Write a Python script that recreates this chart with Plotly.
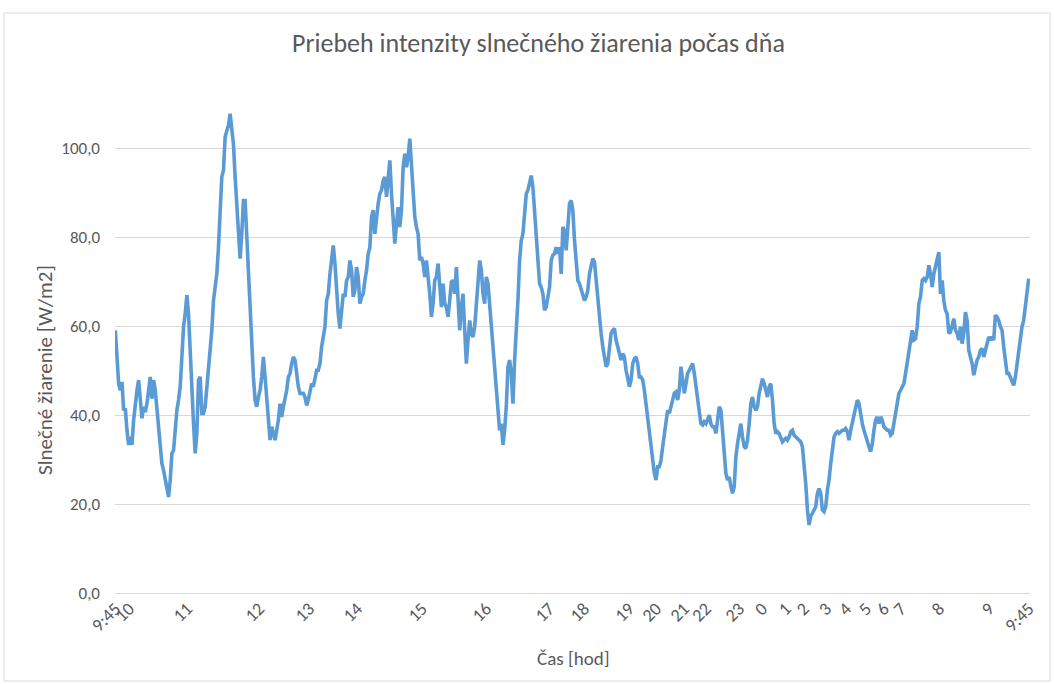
import plotly.graph_objects as go

# Solar irradiance samples [W/m2] (uniform sample index)
irradiance = [
    # 9:45 - 12
    59.1, 51.6, 47.1, 45.6, 47.5, 41.1, 41.5, 36.6, 33.3, 35.1,
    33.3, 38.9, 42.6, 45.6, 47.9, 43.4, 39.3, 41.9, 40.7, 42.6,
    46.4, 48.6, 43.7, 47.9, 45.6, 41.9, 38.1, 33.6, 29.1, 27.6,
    25.4, 23.1, 21.6, 25.4, 31.4, 32.1, 37.4, 41.1, 43.4, 46.4,
    53.1, 59.9, 62.8, 67.0, 62.8, 53.1, 45.6, 38.1, 31.4, 35.9,
    47.9, 48.6, 40.4, 40.4, 41.9, 46.4, 51.6, 53.9, 59.1, 65.8,
    69.6, 71.8, 77.8, 86.8, 93.6, 95.1, 102.5, 104.0, 105.2, 107.8,
    104.0, 101.0, 93.6, 87.6, 79.3, 75.2, 80.8, 88.3, 88.3, 80.1,
    71.8, 64.3, 56.9, 48.6, 43.4, 41.9, 44.1, 45.6, 48.6, 53.1,
    48.6, 43.4, 38.9, 34.4, 37.4,
    # 12 - 15
    35.9, 34.4, 36.6, 38.9, 42.6, 39.6, 41.9, 43.4, 45.6, 48.6,
    49.4, 51.6, 53.1, 52.4, 48.6, 46.4, 44.9, 44.9, 44.9, 44.1,
    42.2, 43.4, 45.6, 47.1, 46.4, 47.9, 50.1, 50.1, 51.6, 55.4,
    57.6, 59.9, 65.8, 67.3, 71.8, 75.6, 78.2, 74.1, 67.3, 62.8,
    59.5, 64.3, 67.3, 66.6, 70.3, 71.1, 74.8, 72.6, 66.6, 68.1,
    73.3, 71.1, 65.1, 66.6, 67.3, 70.3, 72.6, 76.3, 77.8, 84.6,
    86.1, 80.8, 85.3, 87.6, 89.8, 90.6, 92.8, 93.6, 89.1, 92.8,
    97.3, 89.8, 85.3, 78.6, 83.1, 86.8, 82.3, 86.1, 95.8, 98.8,
    95.8, 98.1, 102.2, 96.6, 91.3, 84.6, 82.3, 80.8, 74.8, 75.6,
    74.1, 71.1,
    # 15 - 18
    74.8, 71.8, 67.3, 62.1, 65.1, 70.3, 71.1, 74.1, 68.8, 64.3,
    69.6, 65.1, 64.3, 62.1, 65.8, 70.0, 70.3, 67.3, 73.3, 67.3,
    59.1, 64.3, 67.3, 59.1, 51.6, 56.9, 61.3, 58.4, 57.6, 59.9,
    65.1, 69.6, 74.8, 72.6, 67.3, 65.1, 71.1, 69.6, 65.1, 59.9,
    54.6, 49.4, 46.4, 40.4, 36.6, 38.1, 33.3, 36.6, 41.9, 50.9,
    52.4, 49.4, 42.6, 52.4, 58.4, 65.8, 74.8, 79.3, 80.8, 86.1,
    89.8, 90.6, 92.1, 93.9, 91.3, 85.3, 80.1, 74.1, 69.6, 68.8,
    67.3, 63.6, 64.3, 66.6, 68.8, 74.8, 76.0, 76.3, 77.8, 76.3,
    77.8, 71.8, 82.3, 81.6, 77.1, 82.3, 87.6, 88.3, 86.1, 79.3,
    74.8, 70.3,
    # 18 - 23
    69.6, 68.1, 66.6, 65.8, 66.6, 68.1, 71.8, 74.1, 75.2, 74.5,
    70.3, 65.8, 61.3, 58.4, 55.4, 52.4, 50.9, 51.6, 54.6, 58.4,
    59.1, 59.5, 56.9, 55.4, 53.9, 52.4, 53.9, 53.1, 50.1, 47.9,
    46.4, 47.9, 51.6, 52.7, 53.1, 51.6, 48.6, 48.6, 47.9, 45.6,
    42.6, 39.6, 36.6, 32.9, 29.1, 26.9, 25.4, 28.4, 28.4, 29.9,
    32.9, 35.9, 39.6, 41.1, 40.4, 41.9, 42.6, 44.9, 45.2, 43.4,
    45.6, 50.9, 47.9, 44.9, 47.1, 49.4, 50.1, 50.9, 51.6, 49.4,
    46.4, 43.4, 40.4, 38.1, 37.8, 38.5, 38.1, 38.9, 40.0, 38.1,
    37.4, 37.4, 35.9, 38.9, 41.9, 41.1, 35.9, 29.9, 26.9, 25.4,
    26.1, 23.9,
    # 23 - 6
    22.4, 23.9, 30.6, 33.6, 36.6, 38.1, 35.1, 32.9, 32.5, 34.4,
    38.1, 42.6, 44.1, 41.9, 41.1, 41.9, 44.9, 46.4, 48.2, 47.1,
    45.6, 44.1, 46.4, 47.1, 43.4, 38.1, 35.9, 36.3, 35.9, 35.1,
    34.0, 34.4, 34.8, 34.4, 35.1, 36.3, 36.6, 35.5, 35.1, 34.8,
    34.4, 34.0, 32.9, 29.1, 24.6, 18.7, 15.3, 17.2, 17.9, 18.7,
    19.4, 22.4, 23.5, 22.4, 18.7, 18.3, 19.4, 23.1, 25.4, 29.1,
    32.9, 35.1, 35.9, 36.3, 35.9, 36.3, 36.6, 36.6, 37.0, 36.3,
    34.4, 36.6, 38.1, 39.6, 41.9, 43.4, 42.6, 39.6, 38.1, 36.6,
    35.1, 34.4, 32.9, 31.8, 33.6, 36.6, 38.9, 39.6, 38.1, 39.6,
    38.9, 37.4,
    # 6 - 9:45
    37.0, 36.6, 36.6, 35.5, 35.9, 38.1, 39.6, 41.9, 44.9, 45.6,
    46.4, 47.1, 49.4, 51.6, 54.6, 56.9, 59.1, 56.9, 57.2, 59.9,
    65.1, 66.6, 70.3, 70.7, 70.3, 71.1, 73.7, 71.8, 68.8, 71.8,
    73.3, 74.8, 76.7, 67.3, 70.3, 65.8, 63.6, 62.8, 58.4, 58.7,
    59.9, 61.7, 59.1, 58.4, 56.9, 59.9, 56.1, 58.4, 63.2, 61.3,
    54.6, 53.1, 51.6, 49.0, 51.2, 52.4, 53.1, 54.6, 55.0, 53.1,
    54.6, 56.1, 57.6, 56.9, 57.6, 56.9, 62.5, 62.1, 61.3, 59.9,
    59.1, 55.4, 51.6, 49.4, 49.4, 48.6, 47.9, 46.7, 48.6, 51.6,
    53.1, 57.6, 59.9, 61.3, 64.3, 68.1, 70.7,
]

# Hour labels and the sample index where each occurs
hour_labels = ["9:45", "10", "11", "12", "13", "14", "15", "16", "17", "18",
               "19", "20", "21", "22", "23", "0", "1", "2", "3", "4",
               "5", "6", "7", "8", "9", "9:45"]
hour_index = [0, 8.2, 43.1, 86.4, 116.4, 145.3, 184.3, 222.8, 260.7, 281.7,
              308.7, 325.0, 341.8, 355.0, 374.9, 388.7, 403.1, 413.9, 427.2, 439.2,
              451.2, 462.0, 472.2, 495.1, 525.1, 549]

y_ticks = [0, 20, 40, 60, 80, 100]
y_labels = ["0,0", "20,0", "40,0", "60,0", "80,0", "100,0"]

FONT = "Carlito, Calibri, Lato, sans-serif"
GRAY = "#595959"

W, H = 1054, 684
L, R, T, B = 115, 1030, 104, 593

def px(xp):
    return (xp - L) / (R - L)

def py(yp):
    return (B - yp) / (B - T)

sample = list(range(len(irradiance)))

fig = go.Figure(go.Scatter(
    x=sample, y=irradiance, mode="lines",
    line=dict(color="#5B9BD5", width=3.6),
    hoverinfo="skip", showlegend=False,
))

fig.update_layout(
    width=W, height=H,
    margin=dict(l=L, r=W - R, t=T, b=H - B, pad=0),
    paper_bgcolor="white", plot_bgcolor="white",
    font=dict(family=FONT, color=GRAY),
    showlegend=False,
)

fig.update_xaxes(
    range=[-0.2, 549.8],
    tickmode="array", tickvals=hour_index, ticktext=hour_labels,
    tickangle=-45, tickfont=dict(size=18, color=GRAY, family=FONT),
    showgrid=False, zeroline=False,
    showline=True, linecolor="#D9D9D9", linewidth=1,
    ticks="", ticklabelstandoff=-3,
)
fig.update_yaxes(
    range=[0, 110],
    tickmode="array", tickvals=y_ticks, ticktext=y_labels,
    tickfont=dict(size=17, color=GRAY, family=FONT),
    showgrid=True, gridcolor="#D9D9D9", gridwidth=1,
    zeroline=False, showline=False, ticks="", ticklabelstandoff=14,
)

fig.add_annotation(
    text="Priebeh intenzity slnečného žiarenia počas dňa",
    xref="paper", yref="paper", x=px(538), y=py(43),
    xanchor="center", yanchor="middle", showarrow=False,
    font=dict(size=26, color=GRAY, family=FONT),
)
fig.add_annotation(
    text="Slnečné žiarenie [W/m2]",
    xref="paper", yref="paper", x=px(45), y=py(370),
    xanchor="center", yanchor="middle", showarrow=False, textangle=-90,
    font=dict(size=21, color=GRAY, family=FONT),
)
fig.add_annotation(
    text="Čas [hod]",
    xref="paper", yref="paper", x=px(573), y=py(658),
    xanchor="center", yanchor="middle", showarrow=False,
    font=dict(size=19, color=GRAY, family=FONT),
)

fig.add_shape(
    type="rect", xref="paper", yref="paper",
    x0=px(4), x1=px(1050), y0=py(681), y1=py(13),
    line=dict(color="#D9D9D9", width=1), fillcolor="rgba(0,0,0,0)", layer="below",
)

fig.write_html("out.html", config={"displayModeBar": False},
               post_script="document.body.style.margin='0px';")
